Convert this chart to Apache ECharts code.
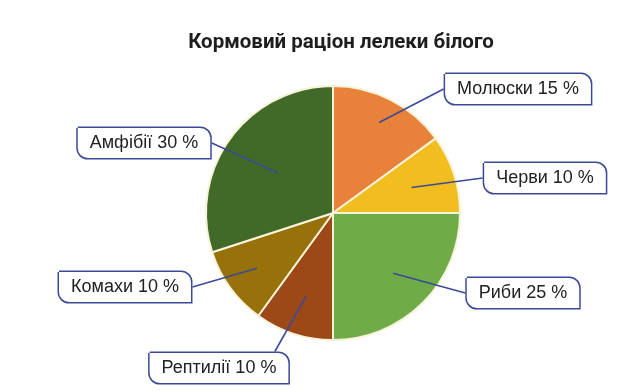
<!DOCTYPE html>
<html>
<head>
<meta charset="utf-8">
<script src="https://cdn.jsdelivr.net/npm/echarts@6/dist/echarts.min.js"></script>
<style>
  html, body { margin: 0; padding: 0; background: #fff; }
  #main { width: 622px; height: 392px; }
</style>
</head>
<body>
<div id="main"></div>
<script>
// diet of the white stork, percent
var categories = ['Молюски', 'Черви', 'Риби', 'Рептилії', 'Комахи', 'Амфібії'];
var shares = [15, 10, 25, 10, 10, 30];
var colors = ['#e8823a', '#f1bd1f', '#6fac48', '#9c4817', '#977109', '#416a29'];

// where each callout box sits, which side the leader touches, how deep the leader goes into the slice
var boxCenters = [[518, 89], [545, 178], [523, 293], [219, 368], [125, 287], [144, 143]];
var boxSides = ['left', 'left', 'left', 'top', 'right', 'right'];
var lineDepth = [0.8, 0.65, 0.67, 0.69, 0.74, 0.54];

var CX = 333, CY = 213, R = 127;

var myChart = echarts.init(document.getElementById('main'));

myChart.setOption({
  backgroundColor: '#fff',
  title: {
    text: 'Кормовий раціон лелеки білого',
    left: 336,
    top: 27,
    textAlign: 'center',
    textStyle: { fontFamily: 'Roboto', fontWeight: 'bold', fontSize: 20.5, color: '#1e1e1e' }
  },
  series: [{
    // the slices
    type: 'pie',
    z: 2,
    center: [CX, CY],
    radius: R,
    startAngle: 90,
    clockwise: true,
    animation: false,
    silent: true,
    data: categories.map(function (c, i) {
      return { name: c, value: shares[i], itemStyle: { color: colors[i] } };
    }),
    itemStyle: { borderColor: '#f7f2d8', borderWidth: 2 },
    label: { show: false },
    labelLine: { show: false }
  }, {
    // same pie, transparent, only for the callouts so they sit above the slices
    type: 'pie',
    z: 5,
    center: [CX, CY],
    radius: R,
    startAngle: 90,
    clockwise: true,
    avoidLabelOverlap: false,
    animation: false,
    silent: true,
    data: categories.map(function (c, i) {
      return { name: c, value: shares[i] };
    }),
    itemStyle: { color: 'rgba(0,0,0,0)', borderWidth: 0 },
    label: {
      position: 'outside',
      formatter: '{b} {c} %',
      fontFamily: 'Liberation Sans',
      fontSize: 18,
      lineHeight: 18,
      color: '#222',
      backgroundColor: '#fff',
      borderColor: '#3c4a98',
      borderWidth: 1.5,
      borderRadius: [0, 10, 0, 10],
      padding: [6, 12, 6, 12]
    },
    labelLine: {
      show: true,
      length: 10,
      length2: 10,
      lineStyle: { color: '#3c4a98', width: 1.6 }
    },
    labelLayout: function (params) {
      var i = params.dataIndex;
      var c = boxCenters[i];
      var w = params.labelRect.width, h = params.labelRect.height;
      var edge = params.labelLinePoints[0];
      var inner = [CX + (edge[0] - CX) * lineDepth[i], CY + (edge[1] - CY) * lineDepth[i]];
      var end;
      if (boxSides[i] === 'left') end = [c[0] - w / 2, c[1]];
      else if (boxSides[i] === 'right') end = [c[0] + w / 2, c[1]];
      else end = [c[0] + w / 2 - 15, c[1] - h / 2];
      return {
        x: c[0],
        y: c[1],
        align: 'center',
        verticalAlign: 'middle',
        labelLinePoints: [inner, end]
      };
    }
  }]
});
</script>
</body>
</html>
